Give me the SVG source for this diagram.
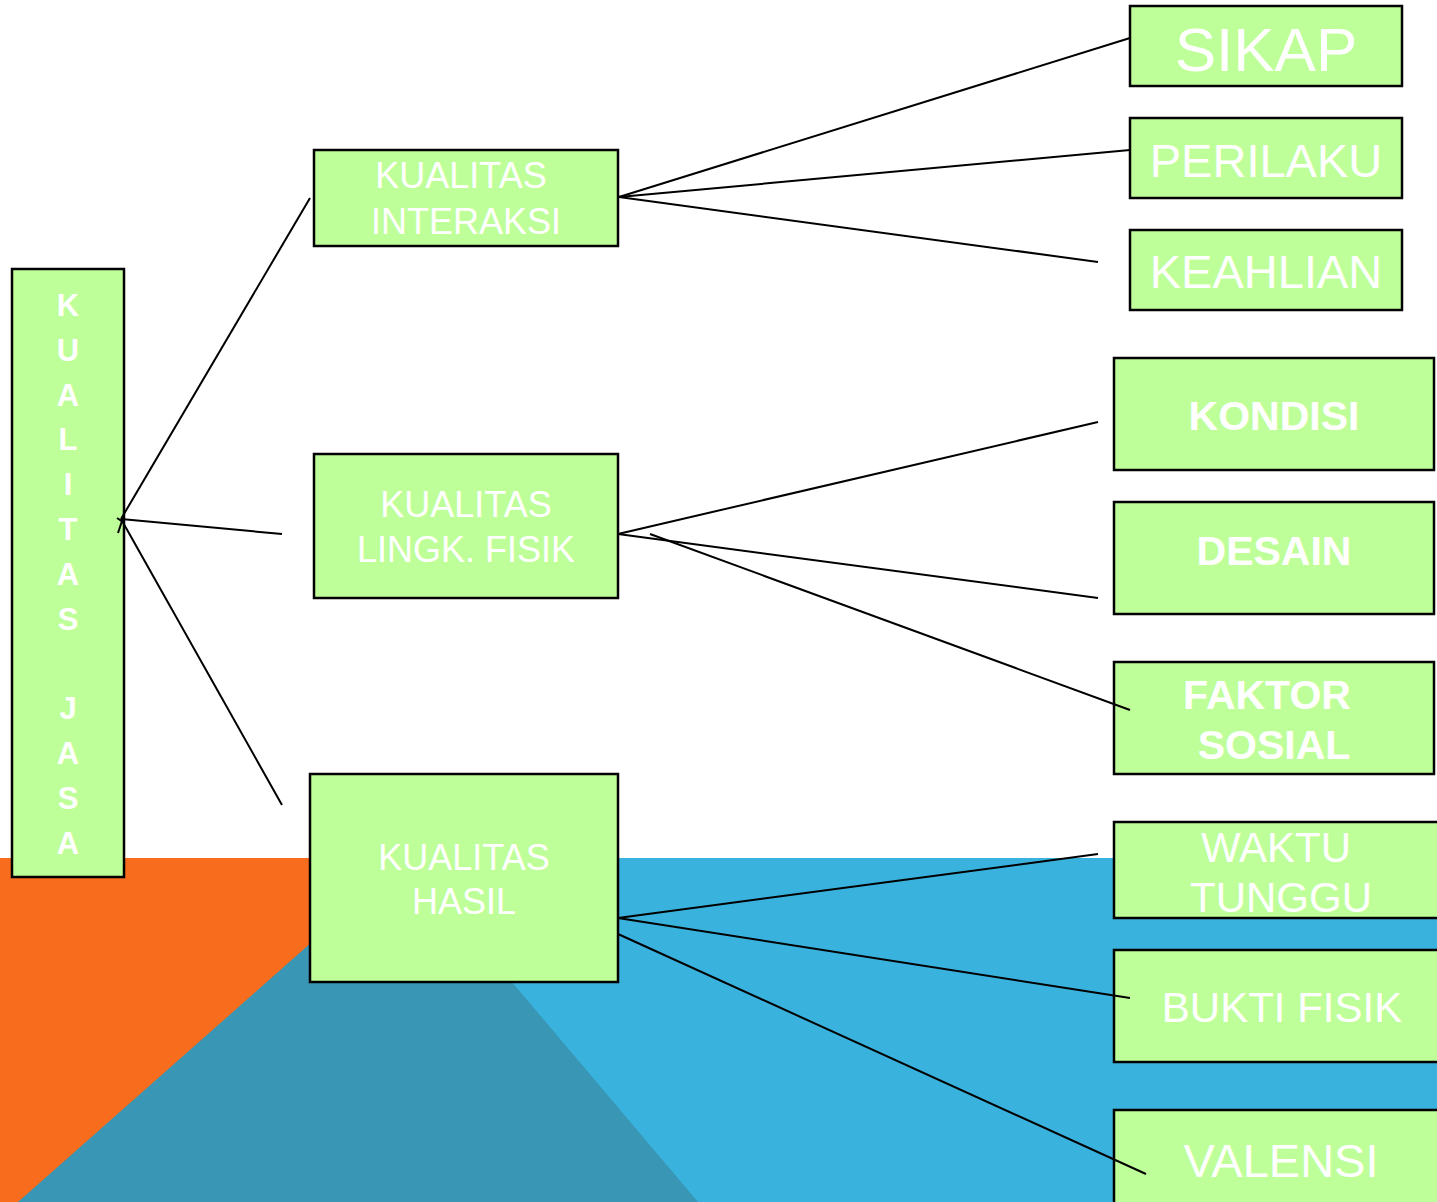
<svg xmlns="http://www.w3.org/2000/svg" width="1437" height="1202" viewBox="0 0 1437 1202">
<style>
.box{fill:#BFFF9A;stroke:#000;stroke-width:2.5}
.t{font-family:"Liberation Sans",Arial,sans-serif;fill:#fff;text-anchor:middle}
.b{font-weight:bold}
.c line{stroke:#000;stroke-width:2;fill:none}
</style>
<rect x="0" y="0" width="1437" height="1202" fill="#fff"/>
<g id="background">
<rect x="0" y="858" width="408" height="344" fill="#F76C1D"/>
<rect x="407" y="858" width="1030" height="344" fill="#3AB2DE"/>
<polygon points="18,1202 407,858 698,1202" fill="#3996B4"/>
</g>
<g id="kualitas-jasa">
<rect class="box" x="12" y="269" width="112" height="608"/>
<g class="t b" font-size="31">
<text x="68" y="316">K</text>
<text x="68" y="361">U</text>
<text x="68" y="406">A</text>
<text x="68" y="450">L</text>
<text x="68" y="495">I</text>
<text x="68" y="540">T</text>
<text x="68" y="585">A</text>
<text x="68" y="630">S</text>
<text x="68" y="719">J</text>
<text x="68" y="764">A</text>
<text x="68" y="809">S</text>
<text x="68" y="854">A</text>
</g>
</g>
<g id="kualitas-interaksi">
<rect class="box" x="314" y="150" width="304" height="96"/>
<text class="t" font-size="36" x="461" y="188">KUALITAS</text>
<text class="t" font-size="36" x="466" y="234">INTERAKSI</text>
</g>
<g id="kualitas-lingk">
<rect class="box" x="314" y="454" width="304" height="144"/>
<text class="t" font-size="36" x="466" y="517">KUALITAS</text>
<text class="t" font-size="36" x="466" y="562">LINGK. FISIK</text>
</g>
<g id="kualitas-hasil">
<rect class="box" x="310" y="774" width="308" height="208"/>
<text class="t" font-size="36" x="464" y="870">KUALITAS</text>
<text class="t" font-size="36" x="464" y="914">HASIL</text>
</g>
<g id="sikap">
<rect class="box" x="1130" y="6" width="272" height="80"/>
<text class="t" font-size="62" x="1266" y="71">SIKAP</text>
</g>
<g id="perilaku">
<rect class="box" x="1130" y="118" width="272" height="80"/>
<text class="t" font-size="47" x="1266" y="177">PERILAKU</text>
</g>
<g id="keahlian">
<rect class="box" x="1130" y="230" width="272" height="80"/>
<text class="t" font-size="47" x="1266" y="288">KEAHLIAN</text>
</g>
<g id="kondisi">
<rect class="box" x="1114" y="358" width="320" height="112"/>
<text class="t b" font-size="41" x="1274" y="430">KONDISI</text>
</g>
<g id="desain">
<rect class="box" x="1114" y="502" width="320" height="112"/>
<text class="t b" font-size="41" x="1274" y="565">DESAIN</text>
</g>
<g id="faktor-sosial">
<rect class="box" x="1114" y="662" width="320" height="112"/>
<text class="t b" font-size="41" x="1267" y="709">FAKTOR</text>
<text class="t b" font-size="41" x="1274" y="759">SOSIAL</text>
</g>
<g id="waktu-tunggu">
<rect class="box" x="1114" y="822" width="330" height="96"/>
<text class="t" font-size="42" x="1276" y="862">WAKTU</text>
<text class="t" font-size="42" x="1281" y="912">TUNGGU</text>
</g>
<g id="bukti-fisik">
<rect class="box" x="1114" y="950" width="330" height="112"/>
<text class="t" font-size="42" x="1282" y="1022">BUKTI FISIK</text>
</g>
<g id="valensi">
<rect class="box" x="1114" y="1110" width="330" height="100"/>
<text class="t" font-size="47" x="1281" y="1177">VALENSI</text>
</g>
<g class="c" id="connectors">
<line x1="121" y1="519" x2="310" y2="198"/>
<line x1="121" y1="519" x2="282" y2="534"/>
<line x1="121" y1="519" x2="282" y2="805"/>
<line x1="117" y1="518" x2="123" y2="522"/>
<line x1="123" y1="518" x2="118" y2="533"/>
<line x1="619" y1="197" x2="1130" y2="38"/>
<line x1="619" y1="197" x2="1130" y2="150"/>
<line x1="619" y1="197" x2="1098" y2="262"/>
<line x1="618" y1="534" x2="1098" y2="422"/>
<line x1="618" y1="534" x2="1098" y2="598"/>
<line x1="650" y1="534" x2="1130" y2="710"/>
<line x1="618" y1="918" x2="1098" y2="854"/>
<line x1="618" y1="918" x2="1130" y2="998"/>
<line x1="618" y1="934" x2="1146" y2="1174"/>
</g>
</svg>
